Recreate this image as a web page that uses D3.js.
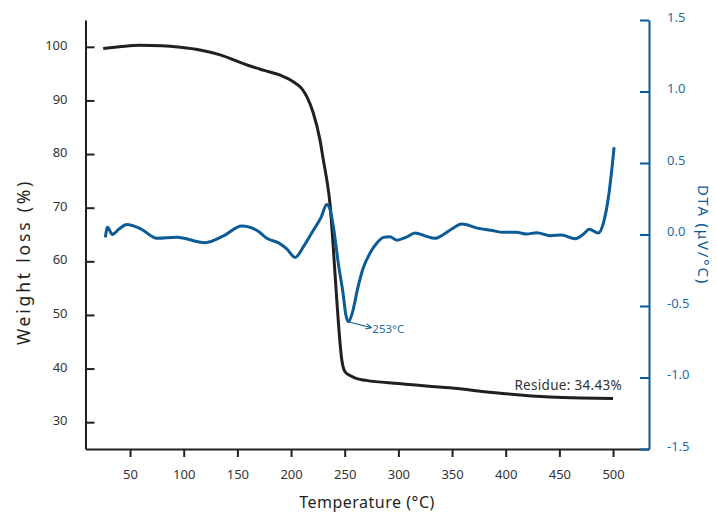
<!DOCTYPE html>
<html>
<head>
<meta charset="utf-8">
<script src="https://cdn.jsdelivr.net/npm/d3@7"></script>
<style>
  body { margin: 0; background: #fff; }
  text { font-family: "Noto Sans", sans-serif; }
</style>
</head>
<body>
<div id="chart"></div>
<script>
// TGA curve (weight %, left axis)
const tgaTemp   = [25, 40, 59, 80, 97, 115, 134, 159, 175, 190, 202, 210, 214.7, 220.8, 227, 230.1, 233.3, 236.4, 239.2, 242.6, 247.3, 250.3, 255, 260, 270, 300, 348, 395, 441, 470, 500];
const tgaWeight = [99.7, 100.0, 100.3, 100.2, 99.9, 99.4, 98.5, 96.6, 95.6, 94.7, 93.5, 92.2, 90.7, 87.6, 82.6, 78.9, 75.2, 70.5, 63, 52.8, 41.6, 39.4, 38.7, 38.2, 37.8, 37.2, 36.4, 35.4, 34.7, 34.5, 34.4];

// DTA curve (uV/°C, right axis)
const dtaTemp  = [27, 29, 33.5, 40, 47, 60, 75, 93.5, 120, 137, 154, 170, 177.4, 188, 196, 203.8, 212, 220.8, 228, 233.3, 236.5, 239.5, 244, 248.8, 251, 253.4, 257, 262, 267, 273.6, 280, 286, 292, 298.5, 307, 315.6, 325, 334, 342, 350, 359, 374.5, 386, 397.8, 410, 419.6, 428.9, 441.3, 452, 464.6, 472, 478, 486.3, 491, 495.7, 498.8, 501];
const dtaValue = [-0.02, 0.05, 0.0, 0.04, 0.07, 0.04, -0.027, -0.02, -0.057, -0.01, 0.06, 0.02, -0.027, -0.057, -0.1, -0.16, -0.08, 0.03, 0.12, 0.21, 0.17, 0.05, -0.2, -0.43, -0.56, -0.61, -0.55, -0.38, -0.24, -0.13, -0.06, -0.02, -0.015, -0.04, -0.02, 0.01, -0.01, -0.027, 0.0, 0.04, 0.073, 0.043, 0.03, 0.015, 0.015, 0.003, 0.013, -0.008, -0.003, -0.03, 0.0, 0.036, 0.01, 0.08, 0.26, 0.45, 0.61];

const xTicks = [50, 100, 150, 200, 250, 300, 350, 400, 450, 500];
const yTicks = [30, 40, 50, 60, 70, 80, 90, 100];
const y2Ticks = [-1.5, -1.0, -0.5, 0.0, 0.5, 1.0, 1.5];

const peakTemp = 253.4;
const peakValue = -0.61;
const peakLabel = "253°C";
const residueLabel = "Residue: 34.43%";

const width = 717;
const height = 515;
const dark = "#231f20";
const blue = "#0b5b96";
const blueText = "#2a6aa3";

const svg = d3.select("#chart")
              .append("svg")
              .attr("width", width)
              .attr("height", height);

const xScale = d3.scaleLinear().domain([8.5, 533.5]).range([85.5, 649]);
const yScale = d3.scaleLinear().domain([25, 105]).range([449, 20]);
const y2Scale = d3.scaleLinear().domain([-1.5, 1.5]).range([449, 20]);

// axes
const xAxis = svg.append("g")
   .attr("transform", "translate(0, 449)")
   .call(d3.axisBottom(xScale).tickValues(xTicks).tickSize(8).tickSizeOuter(0).tickPadding(13));

const yAxis = svg.append("g")
   .attr("transform", "translate(85.5, 0)")
   .call(d3.axisLeft(yScale).tickValues(yTicks).tickSize(-9).tickSizeOuter(0).tickPadding(18));

const y2Axis = svg.append("g")
   .attr("transform", "translate(649, 0)")
   .call(d3.axisRight(y2Scale).tickValues(y2Ticks).tickSize(-9).tickSizeOuter(0).tickPadding(18)
           .tickFormat(d => d.toFixed(1)));

[xAxis, yAxis].forEach(g => {
  g.select(".domain").attr("stroke", dark).attr("stroke-width", 2);
  g.selectAll(".tick line").attr("stroke", dark).attr("stroke-width", 2);
  g.selectAll(".tick text").attr("fill", "#333").style("font-size", "13px");
});
yAxis.selectAll(".tick text").attr("dy", "0.2em");
y2Axis.select(".domain").attr("stroke", blue).attr("stroke-width", 2);
y2Axis.selectAll(".tick line").attr("stroke", blue).attr("stroke-width", 2);
y2Axis.selectAll(".tick text").attr("fill", blueText).attr("dy", "0.1em").style("font-size", "13px");

// curves
const tgaLine = d3.line()
   .x((d, i) => xScale(tgaTemp[i]))
   .y(d => yScale(d))
   .curve(d3.curveMonotoneX);

const dtaLine = d3.line()
   .x((d, i) => xScale(dtaTemp[i]))
   .y(d => y2Scale(d))
   .curve(d3.curveMonotoneX);

svg.append("path")
   .attr("d", tgaLine(tgaWeight))
   .attr("fill", "none")
   .attr("stroke", dark)
   .attr("stroke-width", 3);

svg.append("path")
   .attr("d", dtaLine(dtaValue))
   .attr("fill", "none")
   .attr("stroke", blue)
   .attr("stroke-width", 3);

// peak annotation
svg.append("defs").append("marker")
   .attr("id", "arrow")
   .attr("viewBox", "0 0 10 10")
   .attr("refX", 9).attr("refY", 5)
   .attr("markerWidth", 7).attr("markerHeight", 7)
   .attr("markerUnits", "userSpaceOnUse")
   .attr("orient", "auto")
   .append("path")
   .attr("d", "M1,1 L9,5 L1,9")
   .attr("fill", "none")
   .attr("stroke", blue)
   .attr("stroke-width", 1.5);

const px = xScale(peakTemp);
const py = y2Scale(peakValue);
svg.append("line")
   .attr("x1", px).attr("y1", py)
   .attr("x2", px + 23).attr("y2", py + 6)
   .attr("stroke", blue)
   .attr("stroke-width", 1.2)
   .attr("marker-end", "url(#arrow)");

svg.append("text")
   .attr("x", px + 24)
   .attr("y", py + 11)
   .attr("fill", blueText)
   .style("font-size", "11.5px")
   .text(peakLabel);

svg.append("text")
   .attr("x", 622)
   .attr("y", 390)
   .attr("text-anchor", "end")
   .attr("fill", "#333")
   .style("font-size", "13.5px")
   .style("letter-spacing", "0.3px")
   .text(residueLabel);

// axis titles
svg.append("text")
   .attr("x", 367)
   .attr("y", 508)
   .attr("text-anchor", "middle")
   .attr("fill", dark)
   .style("font-size", "16px")
   .style("letter-spacing", "0.5px")
   .text("Temperature (°C)");

svg.append("text")
   .attr("transform", "translate(30, 262) rotate(-90)")
   .attr("text-anchor", "middle")
   .attr("fill", dark)
   .style("font-size", "17.5px")
   .style("letter-spacing", "2.8px")
   .text("Weight loss (%)");

svg.append("text")
   .attr("transform", "translate(698, 235) rotate(90)")
   .attr("text-anchor", "middle")
   .attr("fill", blue)
   .style("font-size", "15px")
   .style("letter-spacing", "1.8px")
   .text("DTA (μV/°C)");
</script>
</body>
</html>
